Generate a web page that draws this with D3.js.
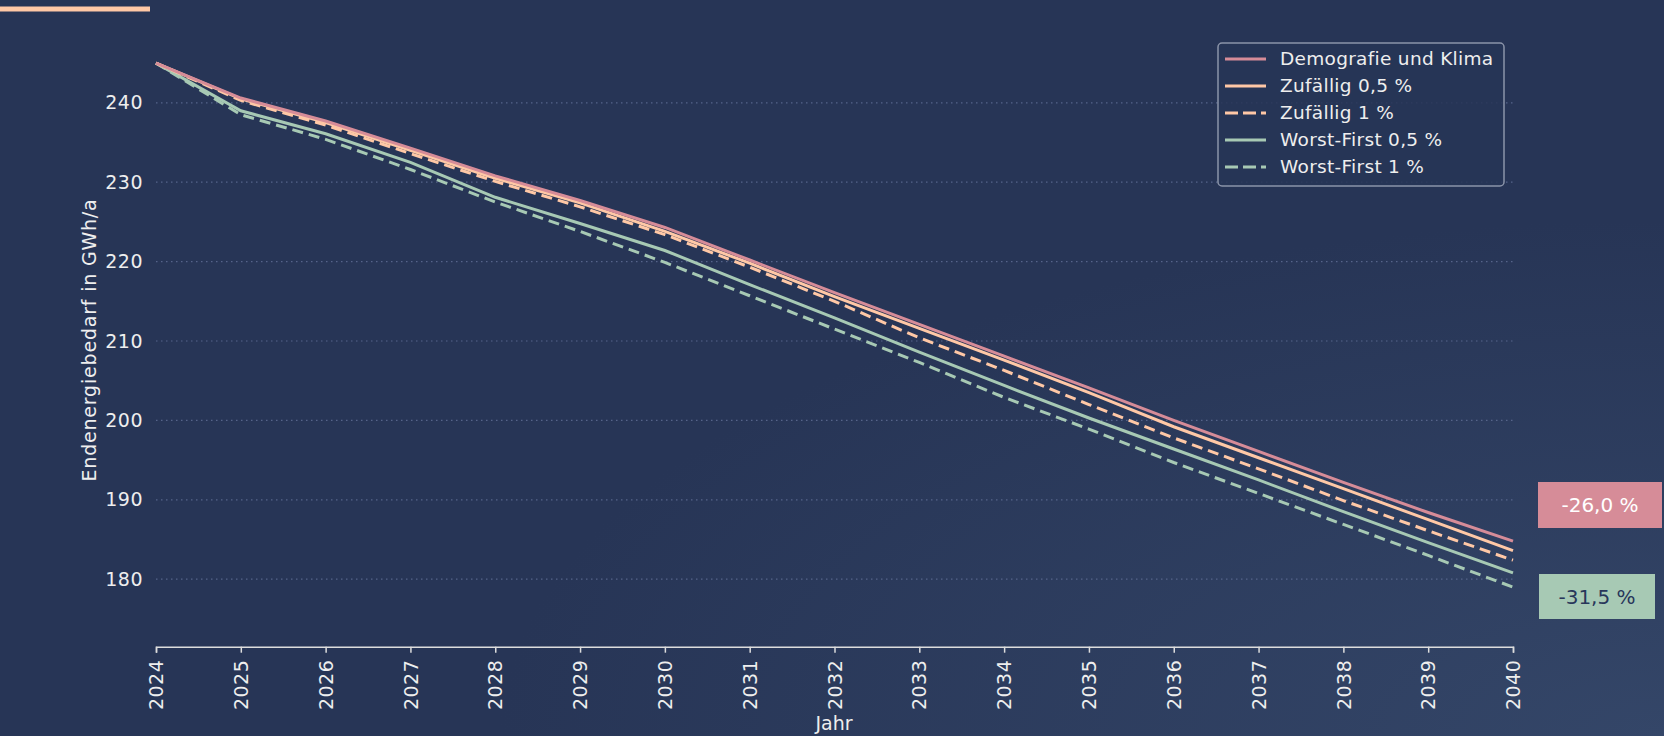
<!DOCTYPE html>
<html>
<head>
<meta charset="utf-8">
<script src="https://cdn.jsdelivr.net/npm/d3@7"></script>
<style>
  html, body { margin: 0; padding: 0; background: #273556; }
  svg { display: block; }
  text { font-family: "DejaVu Sans", "Noto Sans", sans-serif; }
</style>
</head>
<body>
<svg id="chart" width="1664" height="736"></svg>
<script>
// ---- data ----
const years = [2024, 2025, 2026, 2027, 2028, 2029, 2030, 2031, 2032, 2033, 2034, 2035, 2036, 2037, 2038, 2039, 2040];
const demografieKlima = [245.0, 240.6, 237.7, 234.3, 230.8, 227.7, 224.3, 220.2, 216.1, 212.1, 208.1, 204.1, 200.0, 196.1, 192.2, 188.4, 184.8];
const zufaellig05    = [245.0, 240.5, 237.5, 234.0, 230.5, 227.4, 223.8, 219.8, 215.6, 211.6, 207.6, 203.5, 199.2, 195.3, 191.4, 187.5, 183.6];
const zufaellig1     = [245.0, 240.3, 237.2, 233.6, 230.1, 226.9, 223.4, 219.3, 215.0, 210.4, 206.3, 202.0, 197.8, 193.9, 189.9, 186.1, 182.4];
const worstFirst05   = [245.0, 239.0, 236.1, 232.5, 228.1, 224.8, 221.4, 217.1, 212.9, 208.6, 204.4, 200.3, 196.4, 192.5, 188.5, 184.6, 180.8];
const worstFirst1    = [245.0, 238.5, 235.4, 231.6, 227.5, 223.8, 219.9, 215.7, 211.5, 207.3, 202.9, 198.9, 194.7, 190.8, 186.9, 183.0, 179.0];
const seriesNames = ["Demografie und Klima", "Zufällig 0,5 %", "Zufällig 1 %", "Worst-First 0,5 %", "Worst-First 1 %"];
const yTicks = [180, 190, 200, 210, 220, 230, 240];
const endLabels = ["-26,0 %", "-31,5 %"];
const xTitle = "Jahr";
const yTitle = "Endenergiebedarf in GWh/a";

// ---- styles ----
const colors = ["#d68c98", "#ffc8a6", "#ffc8a6", "#a7c9b4", "#a7c9b4"];
const dashed = [false, false, true, false, true];
const seriesValues = [demografieKlima, zufaellig05, zufaellig1, worstFirst05, worstFirst1];

const svg = d3.select("#chart");
const W = 1664, H = 736;

// background
const defs = svg.append("defs");
const grad = defs.append("radialGradient").attr("id", "bg")
  .attr("cx", "100%").attr("cy", "100%").attr("r", "70%")
  .attr("gradientUnits", "objectBoundingBox");
grad.append("stop").attr("offset", "0%").attr("stop-color", "#344668");
grad.append("stop").attr("offset", "100%").attr("stop-color", "#273556");
svg.append("rect").attr("width", W).attr("height", H).attr("fill", "url(#bg)");

// top-left accent bar
svg.append("rect").attr("x", 0).attr("y", 6.5).attr("width", 150).attr("height", 5)
  .attr("fill", "#ffc8a6");

const x = d3.scaleLinear().domain([2024, 2040]).range([156, 1513]);
const y = d3.scaleLinear().domain([171.5, 250]).range([646.7, 23.4]);

// grid
svg.append("g").selectAll("line").data(yTicks).join("line")
  .attr("x1", 156).attr("x2", 1513)
  .attr("y1", d => y(d)).attr("y2", d => y(d))
  .attr("stroke", "#56648a").attr("stroke-width", 1.2)
  .attr("stroke-dasharray", "1.5,3.5");

// y tick labels
svg.append("g").selectAll("text").data(yTicks).join("text")
  .attr("x", 143).attr("y", d => y(d)).attr("dy", "0.35em")
  .attr("text-anchor", "end").attr("fill", "#eeeeee")
  .attr("font-size", 19).attr("letter-spacing", 0.5).text(d => d);

// y title
svg.append("text")
  .attr("transform", `translate(96,340) rotate(-90)`)
  .attr("text-anchor", "middle").attr("fill", "#eeeeee")
  .attr("font-size", 19).attr("letter-spacing", 0.8).text(yTitle);

// x axis
const xAxis = d3.axisBottom(x).tickValues(years).tickFormat(d3.format("d")).tickSize(6).tickSizeOuter(6);
const gx = svg.append("g").attr("transform", "translate(0,646.7)").call(xAxis);
gx.select(".domain").attr("stroke", "#dddddd").attr("stroke-width", 1.5);
gx.selectAll(".tick line").attr("stroke", "#dddddd").attr("stroke-width", 1.5);
gx.selectAll(".tick text")
  .attr("fill", "#eeeeee").attr("font-size", 19)
  .attr("font-family", "\"DejaVu Sans\", sans-serif")
  .attr("letter-spacing", 0.5)
  .attr("transform", "rotate(-90)")
  .attr("text-anchor", "end")
  .attr("x", -13).attr("y", 0).attr("dy", "0.35em");

svg.append("text").attr("x", 834).attr("y", 730)
  .attr("text-anchor", "middle").attr("fill", "#eeeeee")
  .attr("font-size", 19).text(xTitle);

// lines
const line = d3.line().x((d, i) => x(years[i])).y(d => y(d));
const order = [4, 3, 2, 1, 0];
svg.append("g").selectAll("path").data(order).join("path")
  .attr("d", i => line(seriesValues[i]))
  .attr("fill", "none")
  .attr("stroke", i => colors[i])
  .attr("stroke-width", 3)
  .attr("stroke-dasharray", i => dashed[i] ? "11,6" : null);

// legend
const lg = svg.append("g");
lg.append("rect").attr("x", 1218).attr("y", 43).attr("width", 286).attr("height", 143)
  .attr("rx", 4).attr("fill", "#273556").attr("fill-opacity", 0.85)
  .attr("stroke", "#8b94a9").attr("stroke-width", 1.5);
const rows = lg.selectAll("g.row").data(seriesNames).join("g")
  .attr("transform", (d, i) => `translate(0,${59 + i * 27})`);
rows.append("line").attr("x1", 1225).attr("x2", 1266)
  .attr("stroke", (d, i) => colors[i]).attr("stroke-width", 3)
  .attr("stroke-dasharray", (d, i) => dashed[i] ? "13,5" : null);
rows.append("text").attr("x", 1280).attr("dy", "0.35em")
  .attr("fill", "#eeeeee").attr("font-size", 18.5).attr("letter-spacing", 0.3).text(d => d);

// end labels
const boxes = [
  { x: 1538, y: 482, w: 124, h: 46, fill: "#d68c98", tc: "#ffffff" },
  { x: 1539, y: 574, w: 116, h: 45, fill: "#a7c9b4", tc: "#28365a" }
];
const eg = svg.append("g").selectAll("g").data(endLabels).join("g");
eg.append("rect").attr("x", (d, i) => boxes[i].x).attr("y", (d, i) => boxes[i].y)
  .attr("width", (d, i) => boxes[i].w).attr("height", (d, i) => boxes[i].h)
  .attr("fill", (d, i) => boxes[i].fill);
eg.append("text").attr("x", (d, i) => boxes[i].x + boxes[i].w / 2)
  .attr("y", (d, i) => boxes[i].y + boxes[i].h / 2).attr("dy", "0.35em")
  .attr("text-anchor", "middle").attr("font-size", 20)
  .attr("fill", (d, i) => boxes[i].tc).text(d => d);
</script>
</body>
</html>
